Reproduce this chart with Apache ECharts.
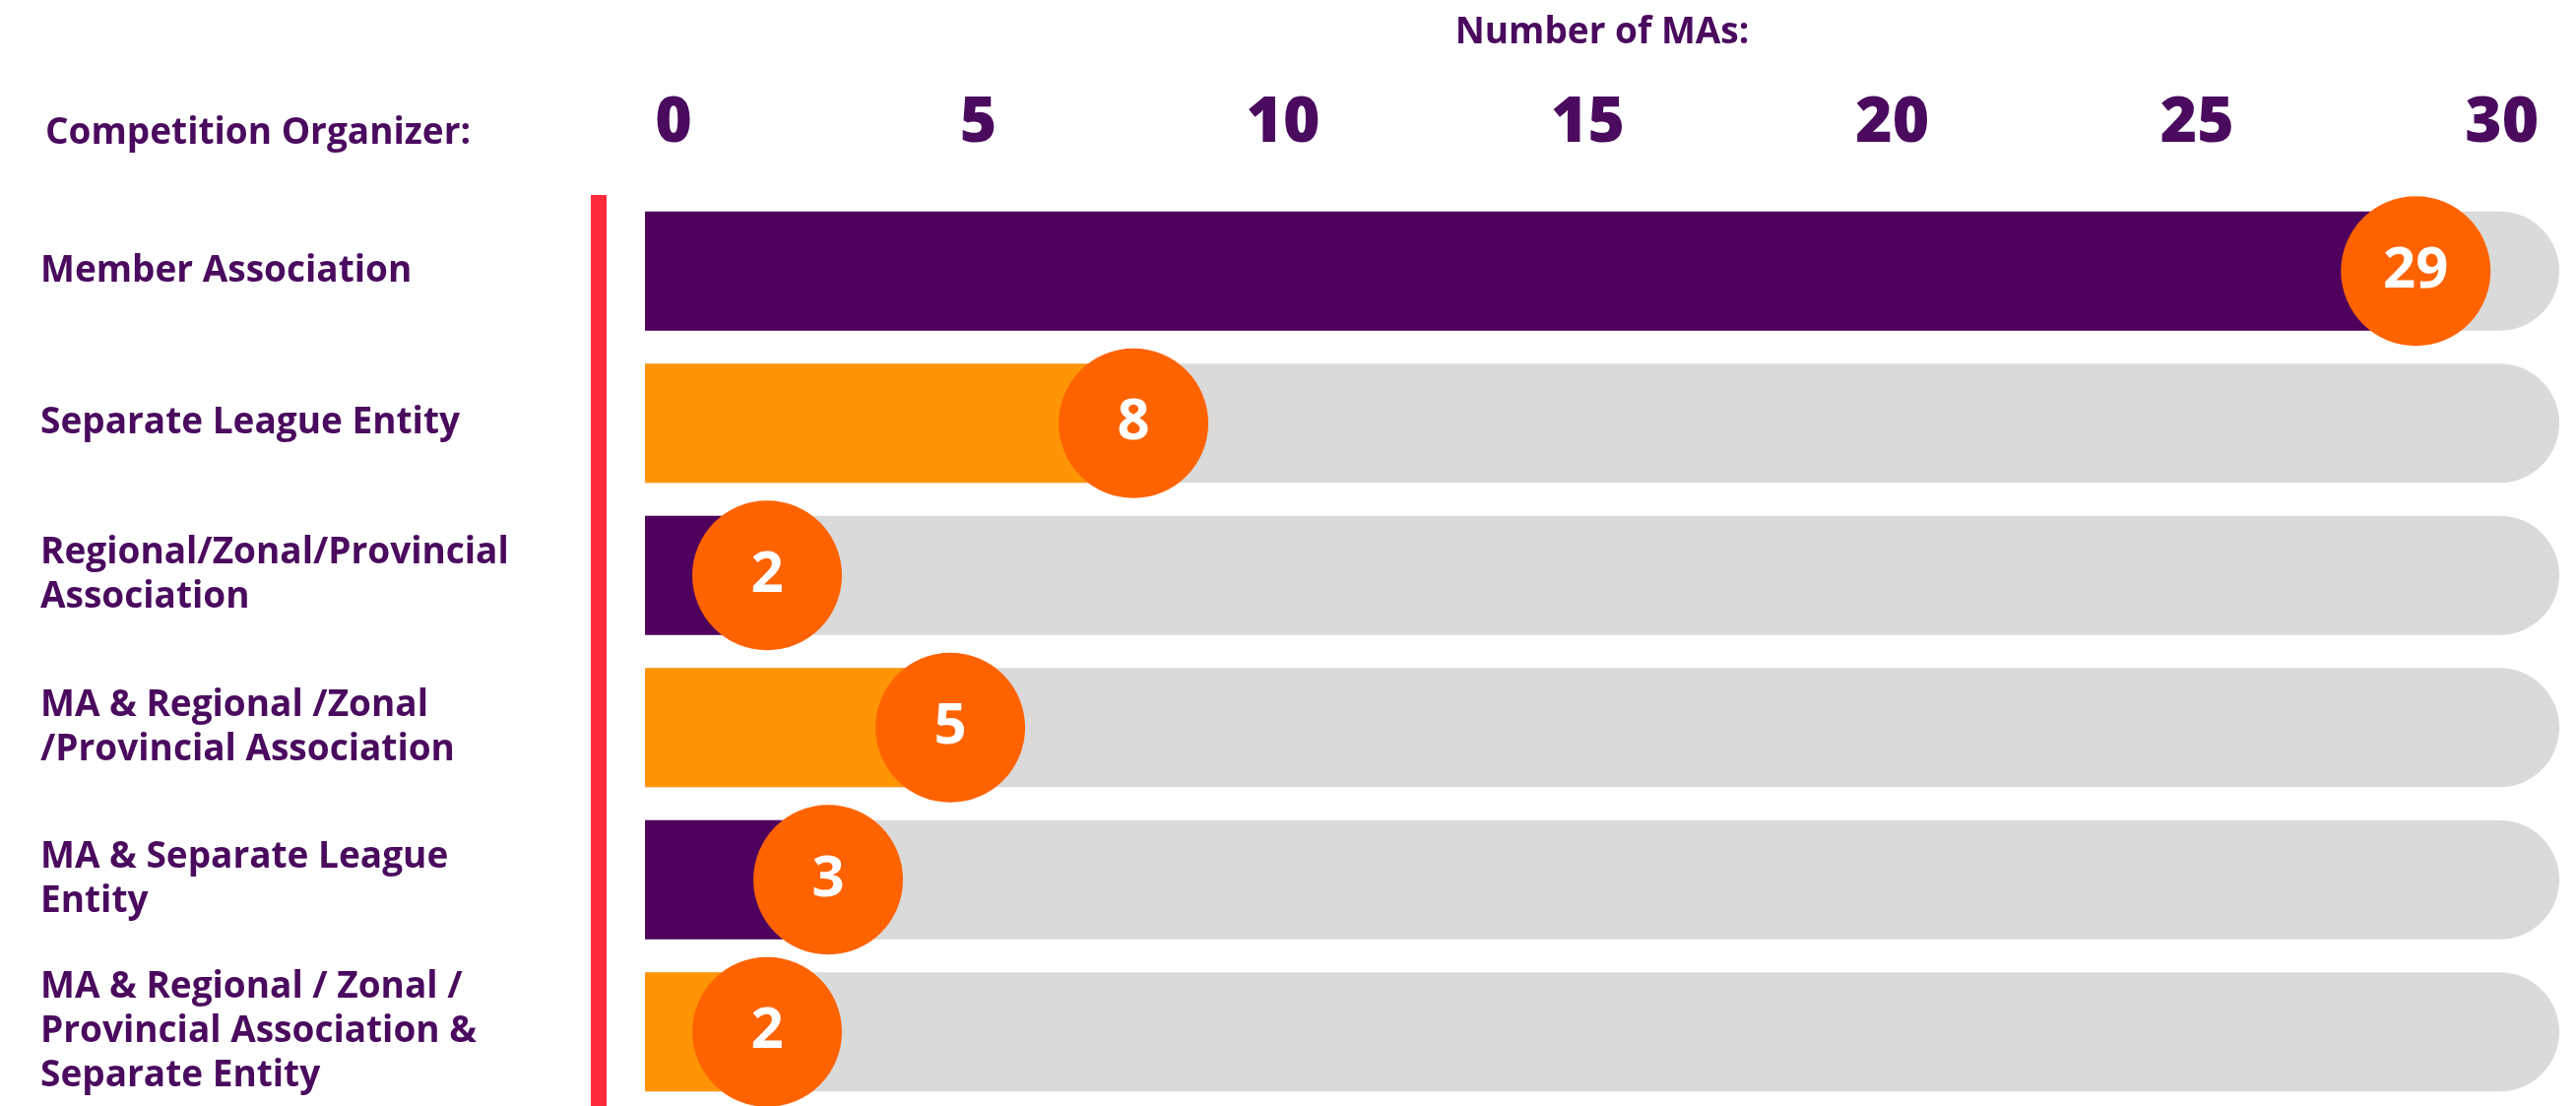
<!DOCTYPE html>
<html>
<head>
<meta charset="utf-8">
<script src="https://cdn.jsdelivr.net/npm/echarts@6/dist/echarts.min.js"></script>
<style>
  html, body { margin: 0; padding: 0; background: #fff; }
  #chart { width: 2616px; height: 1123px; }
</style>
</head>
<body>
<div id="chart"></div>
<script>
// data
var organizers = [
  'Member Association',
  'Separate League Entity',
  'Regional/Zonal/Provincial\nAssociation',
  'MA & Regional /Zonal\n/Provincial Association',
  'MA & Separate League\nEntity',
  'MA & Regional / Zonal /\nProvincial Association &\nSeparate Entity'
];
var counts = [29, 8, 2, 5, 3, 2];
var tickValues = [0, 5, 10, 15, 20, 25, 30];

// styling
var purple = '#4f005d';
var orange = '#ff9505';
var dot = '#ff6300';
var textColor = '#4a0a5e';
var font = 'Open Sans';
var barColors = [purple, orange, purple, orange, purple, orange];

var chart = echarts.init(document.getElementById('chart'));

chart.setOption({
  backgroundColor: '#fff',
  animation: false,
  title: {
    text: 'Competition Organizer:',
    left: 41,
    top: 108,
    textStyle: { color: textColor, fontFamily: font, fontWeight: 'bold', fontSize: 37, lineHeight: 44 }
  },
  grid: { left: 655, right: 17, top: 198, bottom: -2, outerBoundsMode: 'none', containLabel: false },
  xAxis: [
    {
      // axis used for the marks
      type: 'value',
      min: 0,
      max: 31.35,
      show: false
    },
    {
      // axis used for the labels
      type: 'value',
      position: 'top',
      min: -0.468,
      max: 30.94,
      name: 'Number of MAs:',
      nameLocation: 'middle',
      nameGap: 146,
      nameTextStyle: { color: textColor, fontFamily: font, fontWeight: 'bold', fontSize: 37 },
      axisLine: { show: false },
      axisTick: { show: false },
      splitLine: { show: false },
      axisLabel: {
        customValues: tickValues,
        margin: 40,
        color: textColor,
        fontFamily: font,
        fontWeight: 800,
        fontSize: 64
      }
    }
  ],
  yAxis: {
    type: 'category',
    inverse: true,
    data: organizers.map(function (name, i) {
      // this label sits a little above its bar in the reference
      return i === 3 ? { value: name, textStyle: { align: 'left', padding: [0, 0, 40, 0] } } : name;
    }),
    offset: 47,
    axisLine: { show: true, onZero: false, lineStyle: { color: '#ff2b3a', width: 16, cap: 'butt' } },
    axisTick: { show: false },
    axisLabel: {
      align: 'left',
      margin: 567,
      color: textColor,
      fontFamily: font,
      fontWeight: 'bold',
      fontSize: 37,
      lineHeight: 45
    }
  },
  series: [
    {
      type: 'bar',
      xAxisIndex: 0,
      barWidth: 121,
      showBackground: true,
      backgroundStyle: { color: '#dadada', borderRadius: [0, 61, 61, 0] },
      data: counts.map(function (v, i) {
        return { value: v, itemStyle: { color: barColors[i] } };
      })
    },
    {
      type: 'scatter',
      xAxisIndex: 0,
      symbolSize: 152,
      z: 5,
      itemStyle: { color: dot, opacity: 1 },
      label: {
        show: true,
        position: 'inside',
        formatter: function (p) { return p.value[0]; },
        color: '#fff',
        fontFamily: font,
        fontWeight: 'bold',
        fontSize: 58
      },
      data: counts.map(function (v, i) { return [v, i]; })
    }
  ]
});
</script>
</body>
</html>
